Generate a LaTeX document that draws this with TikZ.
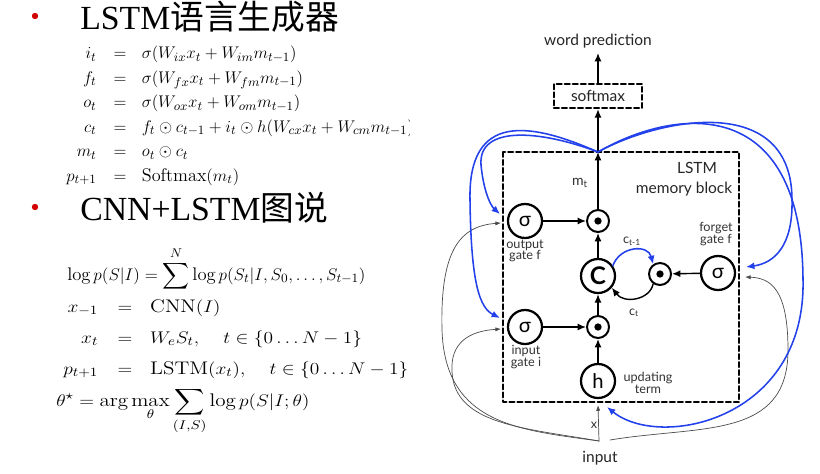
\documentclass[tikz,border=0pt]{standalone}
\usepackage{amsmath}
\usepackage{amssymb}
\usepackage{graphicx}
\usepackage{fontspec}
\setsansfont{Lato}
\newfontfamily\cjk{Noto Sans CJK SC}
\newfontfamily\tnr{Liberation Serif}
\usetikzlibrary{calc}
\usetikzlibrary{arrows.meta}
\definecolor{fbblue}{RGB}{35,65,235}
\definecolor{dotred}{RGB}{210,0,0}

\begin{document}
\begin{tikzpicture}[x=0.025cm, y=-0.025cm, >={Latex[length=6pt,width=5pt]}, line cap=round, line join=round,
  gate/.style={circle, draw, line width=1.6pt, minimum size=0.85cm, inner sep=0pt, font=\sffamily\Large},
  prod/.style={circle, draw, line width=1.4pt, minimum size=0.55cm, inner sep=0pt,
    path picture={\fill (path picture bounding box.center) circle (2.6pt);}},
  lbl/.style={font=\sffamily\fontsize{9}{10}\selectfont, align=center, text=black!80},
  dbox/.style={draw, line width=1.6pt, dash pattern=on 3.5pt off 2.2pt},
  flow/.style={->, line width=1pt},
  fb/.style={->, draw=fbblue, line width=1.1pt},
  feed/.style={-{Latex[length=4pt,width=3pt]}, draw=black!70, line width=0.5pt}]

  \useasboundingbox[fill=white] (0,0) rectangle (820,473);

  %--------------------------
  % Left: formulas
  %--------------------------
  \fill[dotred] (35,16) circle (3.2);
  \node[anchor=west, inner sep=0pt] (title1) at (80,17)
    {\fontsize{24}{28}\selectfont\tnr LSTM\cjk 语言生成器};

  \begin{scope}
    \clip (0,0) rectangle (409,473);
    \node[anchor=west, inner sep=0pt] (eqlang) at (59,115)
      {\fontsize{13}{16}\selectfont\renewcommand\arraystretch{1.09}%
       $\begin{array}{r@{\hspace{12pt}}c@{\hspace{11pt}}l}
        i_t & = & \sigma(W_{ix}x_t + W_{im}m_{t-1})\\
        f_t & = & \sigma(W_{fx}x_t + W_{fm}m_{t-1})\\
        o_t & = & \sigma(W_{ox}x_t + W_{om}m_{t-1})\\
        c_t & = & f_t\odot c_{t-1} + i_t\odot h(W_{cx}x_t + W_{cm}m_{t-1})\\
        m_t & = & o_t\odot c_t\\
        p_{t+1} & = & \mathrm{Softmax}(m_t)
       \end{array}$};
  \end{scope}

  \fill[dotred] (35,207) circle (3.2);
  \node[anchor=west, inner sep=0pt] (title2) at (80,208)
    {\fontsize{24}{28}\selectfont\tnr CNN+LSTM\cjk 图说};

  \node[anchor=west, inner sep=0pt] (eqlog) at (67,269)
    {\fontsize{13}{16}\selectfont\scalebox{1.02}[1]{%
     $\displaystyle\log p(S|I) = \sum^{N} \log p(S_t|I,S_0,\ldots,S_{t-1})$}};
  \node[anchor=west, inner sep=0pt] (eqcap) at (55,337)
    {\fontsize{13}{16}\selectfont\renewcommand\arraystretch{1.38}%
     \scalebox{1.15}[1]{%
     $\begin{array}{r@{\hspace{12pt}}c@{\hspace{11pt}}l}
      x_{-1} & = & \mathrm{CNN}(I)\\
      x_t & = & W_eS_t,\quad t\in\{0\ldots N-1\}\\
      p_{t+1} & = & \mathrm{LSTM}(x_t),\quad t\in\{0\ldots N-1\}
     \end{array}$}};
  \node[anchor=west, inner sep=0pt] (eqopt) at (56,411)
    {\fontsize{13}{16}\selectfont\scalebox{1.15}[1]{%
     $\displaystyle\theta^\star = \arg\max_\theta \sum_{(I,S)} \log p(S|I;\theta)$}};

  %--------------------------
  % Right: LSTM memory block
  %--------------------------
  \node[font=\sffamily\fontsize{11}{12}\selectfont, text=black!85] (word) at (598,41) {word prediction};
  \node[dbox, font=\sffamily\fontsize{11}{12}\selectfont, text=black!85,
        minimum width=2.2cm, minimum height=0.6cm] (soft) at (598,96) {softmax};

  \draw[dbox] (503,152) rectangle (739,402);
  \coordinate (mtop) at (598,152);
  \node[font=\sffamily\fontsize{11}{12}\selectfont, text=black!85] (lstm) at (697,168) {LSTM};
  \node[font=\sffamily\fontsize{11}{12}\selectfont, text=black!85] (mblock) at (684,189) {memory block};

  \node[gate] (og) at (525,221) {σ};
  \node[prod] (op) at (598,221) {};
  \node[gate, font=\sffamily\bfseries\LARGE] (cell) at (598,276) {C};
  \node[prod] (fp) at (660,274) {};
  \node[gate] (fg) at (718,273) {σ};
  \node[prod] (ip) at (598,327) {};
  \node[gate] (ig) at (525,327) {σ};
  \node[gate] (h) at (598,381) {h};

  \node[lbl] (mt) at (580,183) {\fontsize{10}{11}\selectfont m\textsubscript{t}};
  \node[lbl] (oglbl) at (525,251) {output\\[-2pt]gate f};
  \node[lbl] (iglbl) at (526,357) {input\\[-2pt]gate i};
  \node[lbl] (fglbl) at (716,234) {forget\\[-2pt]gate f};
  \node[lbl] (hlbl) at (648,383) {updating\\[-2pt]term};
  \node[lbl] (cprev) at (632,241) {c\textsubscript{t-1}};
  \node[lbl] (cnow) at (634,313) {c\textsubscript{t}};
  \node[font=\sffamily\fontsize{11}{12}\selectfont, text=black!85] (inp) at (600,458) {input};
  \node[lbl] (xlbl) at (594,425) {x};

  % forward flow
  \draw[flow] (og) -- (op);
  \draw[flow] (ig) -- (ip);
  \draw[flow] (h) -- (ip);
  \draw[flow] (ip) -- (cell);
  \draw[flow] (cell) -- (op);
  \draw[flow] (fg) -- (fp);
  \draw[flow] (op) -- (mtop);
  \draw[flow] (mtop) -- (soft);
  \draw[flow] (soft) -- (word);

  % cell recurrence
  \draw[fb] (cell.35) .. controls (620,246) and (648,244) .. (fp.125);
  \draw[flow] (fp.-125) .. controls (650,300) and (624,304) .. (cell.-40);

  % input x to the gates
  \coordinate (src) at (599,441);
  \coordinate (srcr) at (610,440);
  \coordinate (ogk) at (501,223);
  \coordinate (igk) at (501,329);
  \coordinate (fgk) at (745,277);
  \draw[feed] (src) .. controls (520,430) and (445,425) .. (442,330)
                    .. controls (440,250) and (460,226) .. (ogk);
  \draw[feed] (src) .. controls (525,428) and (455,425) .. (452,372)
                    .. controls (450,342) and (470,331) .. (igk);
  \draw[feed] (src) -- ($(h.south)+(0,6)$);
  \draw[feed] (srcr) .. controls (700,425) and (788,440) .. (788,350)
                     .. controls (788,288) and (770,278) .. (fgk);

  % recurrent m_t feedback
  \coordinate (ogb) at (500,214);
  \coordinate (igb) at (500,318);
  \coordinate (fgb) at (746,267);
  \coordinate (hin) at (607,407);
  \draw[fb] (mtop) .. controls (540,130) and (478,125) .. (481,165)
                   .. controls (484,195) and (492,207) .. (ogb);
  \draw[fb] (mtop) .. controls (530,122) and (468,112) .. (470,200)
                   .. controls (471,285) and (480,308) .. (igb);
  \draw[fb] (mtop) .. controls (660,118) and (792,92) .. (792,200)
                   .. controls (793,245) and (775,263) .. (fgb);
  \draw[fb] (mtop) .. controls (670,110) and (802,88) .. (803,280)
                   .. controls (806,420) and (660,450) .. (hin);

\end{tikzpicture}
\end{document}
